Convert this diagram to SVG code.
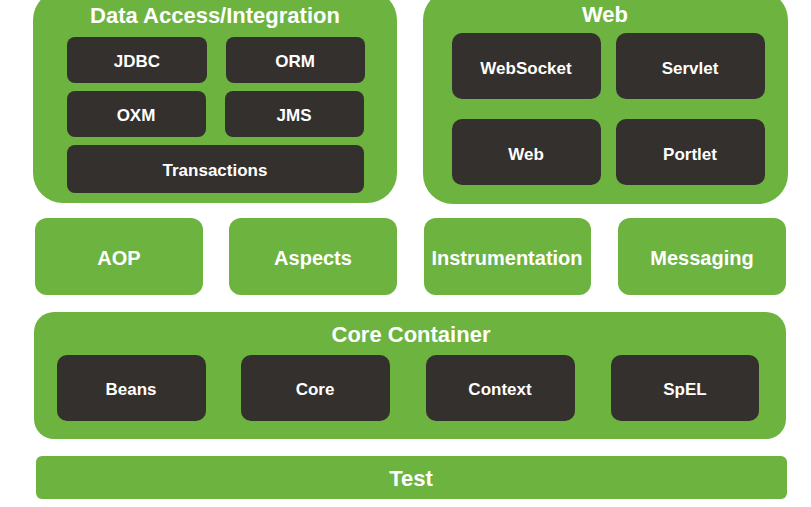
<svg xmlns="http://www.w3.org/2000/svg" width="811" height="507" viewBox="0 0 811 507">
<style>
.g{fill:#6db33f}
.d{fill:#34302d}
text{font-family:"Liberation Sans",Arial,sans-serif;font-weight:bold;fill:#ffffff;text-anchor:middle}
.t{font-size:22px}
.m{font-size:20px}
.s{font-size:17px}
</style>
<rect width="811" height="507" fill="#ffffff"/>
<g id="data-access">
<rect class="g" x="33" y="-10" width="364" height="213" rx="30"/>
<text class="t" x="215" y="23">Data Access/Integration</text>
<g id="jdbc"><rect class="d" x="67" y="37" width="140" height="46" rx="8"/><text class="s" x="137" y="67">JDBC</text></g>
<g id="orm"><rect class="d" x="226" y="37" width="139" height="46" rx="8"/><text class="s" x="295" y="67">ORM</text></g>
<g id="oxm"><rect class="d" x="67" y="91" width="139" height="46" rx="8"/><text class="s" x="136" y="121">OXM</text></g>
<g id="jms"><rect class="d" x="225" y="91" width="139" height="46" rx="8"/><text class="s" x="294" y="121">JMS</text></g>
<g id="transactions"><rect class="d" x="67" y="145" width="297" height="48" rx="8"/><text class="s" x="215" y="176">Transactions</text></g>
</g>
<g id="web">
<rect class="g" x="423" y="-10" width="365" height="214" rx="30"/>
<text class="t" x="605" y="22">Web</text>
<g id="websocket"><rect class="d" x="452" y="33" width="149" height="66" rx="10"/><text class="s" x="526" y="74">WebSocket</text></g>
<g id="servlet"><rect class="d" x="616" y="33" width="149" height="66" rx="10"/><text class="s" x="690" y="74">Servlet</text></g>
<g id="web-mod"><rect class="d" x="452" y="119" width="149" height="66" rx="10"/><text class="s" x="526" y="160">Web</text></g>
<g id="portlet"><rect class="d" x="616" y="119" width="149" height="66" rx="10"/><text class="s" x="690" y="160">Portlet</text></g>
</g>
<g id="aop"><rect class="g" x="35" y="218" width="168" height="77" rx="12"/><text class="m" x="119" y="265">AOP</text></g>
<g id="aspects"><rect class="g" x="229" y="218" width="168" height="77" rx="12"/><text class="m" x="313" y="265">Aspects</text></g>
<g id="instrumentation"><rect class="g" x="424" y="218" width="167" height="77" rx="12"/><text class="m" x="507" y="265">Instrumentation</text></g>
<g id="messaging"><rect class="g" x="618" y="218" width="168" height="77" rx="12"/><text class="m" x="702" y="265">Messaging</text></g>
<g id="core-container">
<rect class="g" x="34" y="312" width="752" height="127" rx="20"/>
<text class="t" x="411" y="342">Core Container</text>
<g id="beans"><rect class="d" x="57" y="355" width="149" height="66" rx="10"/><text class="s" x="131" y="395">Beans</text></g>
<g id="core"><rect class="d" x="241" y="355" width="149" height="66" rx="10"/><text class="s" x="315" y="395">Core</text></g>
<g id="context"><rect class="d" x="426" y="355" width="149" height="66" rx="10"/><text class="s" x="500" y="395">Context</text></g>
<g id="spel"><rect class="d" x="611" y="355" width="148" height="66" rx="10"/><text class="s" x="685" y="395">SpEL</text></g>
</g>
<g id="test"><rect class="g" x="36" y="456" width="751" height="43" rx="6"/><text class="t" x="411" y="486">Test</text></g>
<g id="connectors"/>
</svg>
